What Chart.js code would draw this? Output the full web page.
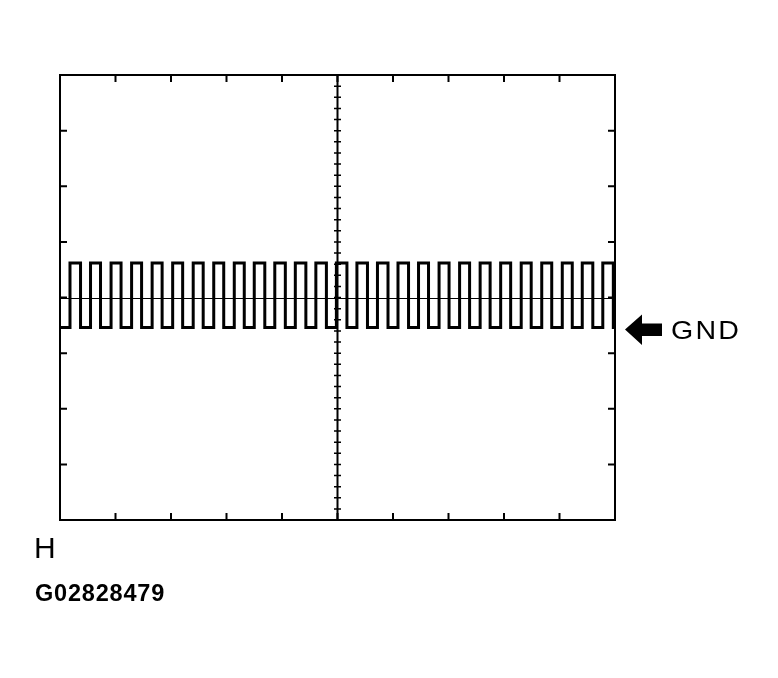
<!DOCTYPE html>
<html>
<head>
<meta charset="utf-8">
<script src="https://cdn.jsdelivr.net/npm/chart.js@4"></script>
<style>
  body { margin: 0; background: #fff; }
  #wrap { position: relative; width: 778px; height: 678px; }
  canvas { position: absolute; left: 0; top: 0; }
  .lbl { position: absolute; font-family: "Liberation Sans", Arial, sans-serif; color: #000; line-height: 1; white-space: nowrap; }
  #gnd { left: 670.5px; top: 317.5px; font-size: 25.5px; letter-spacing: 2px; transform: scaleX(1.12); transform-origin: left top; }
  #hlbl { left: 34px; top: 533px; font-size: 30px; }
  #code { left: 35px; top: 582px; font-size: 23.5px; font-weight: bold; letter-spacing: 0.8px; }
</style>
</head>
<body>
<div id="wrap">
  <canvas id="scope" width="778" height="678"></canvas>
  <div class="lbl" id="gnd">GND</div>
  <div class="lbl" id="hlbl">H</div>
  <div class="lbl" id="code">G02828479</div>
</div>
<script>
// screen is 10 x 8 divisions, values below are in divisions
var xDivs = [0, 10];
var yDivs = [-4, 4];

// signal levels (div)
var HIGH = 0.62;
var LOW = -0.54;

// where the signal goes up / down (div from left edge)
var riseTimes = [0.18, 0.55, 0.92, 1.29, 1.66, 2.03, 2.40, 2.77, 3.14, 3.50,
                 3.87, 4.24, 4.61, 4.98, 5.35, 5.72, 6.09, 6.46, 6.83, 7.20,
                 7.57, 7.94, 8.31, 8.68, 9.05, 9.41, 9.78];
var fallTimes = [0.37, 0.73, 1.10, 1.47, 1.84, 2.21, 2.58, 2.95, 3.32, 3.69,
                 4.06, 4.43, 4.80, 5.17, 5.54, 5.91, 6.28, 6.64, 7.01, 7.38,
                 7.75, 8.12, 8.49, 8.86, 9.23, 9.60, 9.97];

var points = [{x: xDivs[0], y: LOW}];
for (var i = 0; i < riseTimes.length; i++) {
  points.push({x: riseTimes[i], y: HIGH});
  points.push({x: fallTimes[i], y: LOW});
}
points.push({x: xDivs[1], y: LOW});

// frame, center lines, ticks and the GND arrow
var scopeGrid = {
  id: 'scopeGrid',
  beforeDatasetsDraw: function(chart) {
    var ctx = chart.ctx;
    var xs = chart.scales.x, ys = chart.scales.y;
    var a = chart.chartArea;
    var cx = xs.getPixelForValue(5), cy = ys.getPixelForValue(0);
    ctx.save();
    ctx.strokeStyle = '#000';

    // center horizontal line
    ctx.lineWidth = 1;
    ctx.beginPath();
    ctx.moveTo(a.left, Math.round(cy) + 0.5);
    ctx.lineTo(a.right, Math.round(cy) + 0.5);
    ctx.stroke();

    // center vertical line with minor ticks
    ctx.lineWidth = 2;
    ctx.beginPath();
    ctx.moveTo(cx, a.top);
    ctx.lineTo(cx, a.bottom);
    ctx.stroke();
    ctx.lineWidth = 1.5;
    ctx.beginPath();
    for (var v = -4; v <= 4.001; v += 0.2) {
      var py = ys.getPixelForValue(v);
      ctx.moveTo(cx - 3.5, py);
      ctx.lineTo(cx + 3.5, py);
    }
    ctx.stroke();

    // major ticks pointing inward
    ctx.lineWidth = 2;
    ctx.beginPath();
    for (var d = 1; d < 10; d++) {
      var px = xs.getPixelForValue(d);
      ctx.moveTo(px, a.top); ctx.lineTo(px, a.top + 7);
      ctx.moveTo(px, a.bottom); ctx.lineTo(px, a.bottom - 7);
    }
    for (var e = -3; e <= 3; e++) {
      var qy = ys.getPixelForValue(e);
      ctx.moveTo(a.left, qy); ctx.lineTo(a.left + 7, qy);
      ctx.moveTo(a.right, qy); ctx.lineTo(a.right - 7, qy);
    }
    ctx.stroke();

    // frame
    ctx.lineWidth = 2;
    ctx.strokeRect(a.left, a.top, a.right - a.left, a.bottom - a.top);
    ctx.restore();
  },
  afterDraw: function(chart) {
    var ctx = chart.ctx;
    var a = chart.chartArea;
    var gy = chart.scales.y.getPixelForValue(LOW) + 2;
    var tip = a.right + 10;
    ctx.save();
    ctx.fillStyle = '#000';
    ctx.beginPath();
    ctx.moveTo(tip, gy);
    ctx.lineTo(tip + 17, gy - 15);
    ctx.lineTo(tip + 17, gy - 6);
    ctx.lineTo(tip + 37, gy - 6);
    ctx.lineTo(tip + 37, gy + 6.5);
    ctx.lineTo(tip + 17, gy + 6.5);
    ctx.lineTo(tip + 17, gy + 15.5);
    ctx.closePath();
    ctx.fill();
    ctx.restore();
  }
};

var chart = new Chart(document.getElementById('scope').getContext('2d'), {
  type: 'scatter',
  data: {
    datasets: [{
      data: points,
      showLine: true,
      stepped: 'before',
      borderColor: '#000',
      borderWidth: 3,
      borderJoinStyle: 'miter',
      borderCapStyle: 'butt',
      pointRadius: 0,
      fill: false
    }]
  },
  options: {
    responsive: false,
    animation: false,
    devicePixelRatio: 1,
    layout: { padding: { left: 60, top: 75, right: 163, bottom: 158 } },
    scales: {
      x: { type: 'linear', min: xDivs[0], max: xDivs[1], display: false },
      y: { type: 'linear', min: yDivs[0], max: yDivs[1], display: false }
    },
    plugins: {
      legend: { display: false },
      tooltip: { enabled: false },
      title: { display: false }
    }
  },
  plugins: [scopeGrid]
});
</script>
</body>
</html>
